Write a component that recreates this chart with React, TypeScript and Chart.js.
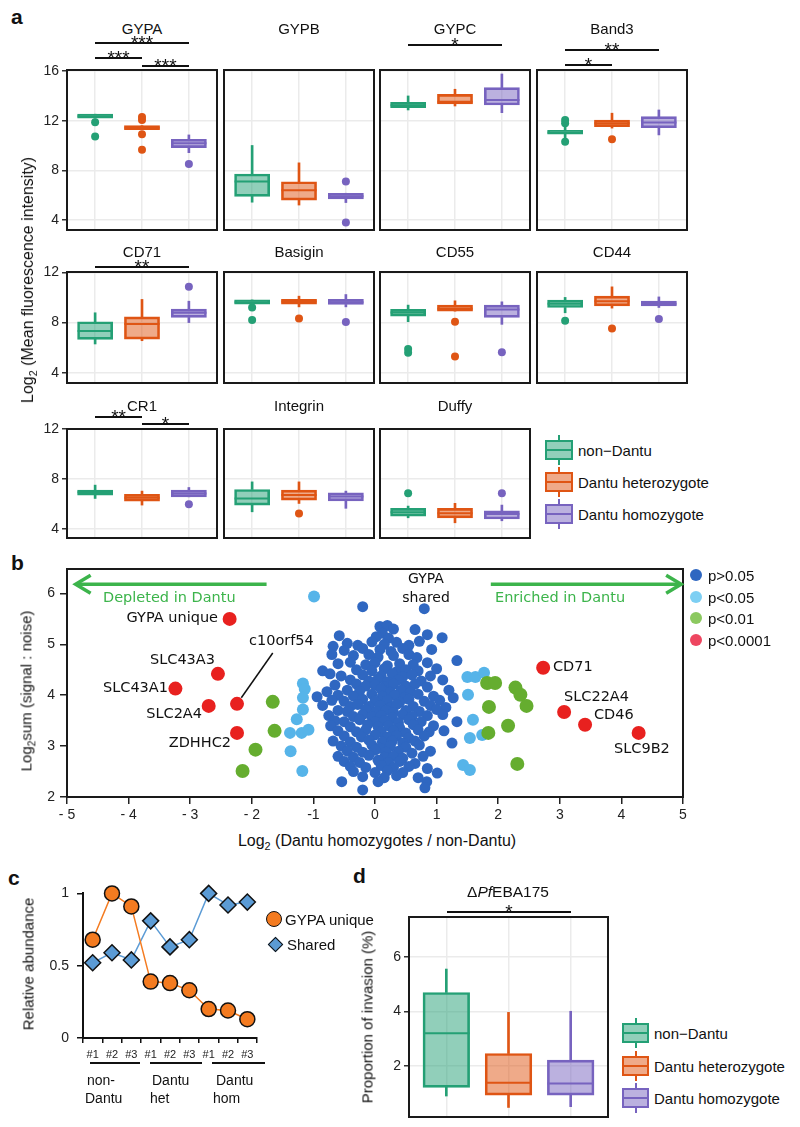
import React, { useEffect, useRef } from 'react';
import { Chart, registerables } from 'chart.js';

Chart.register(...registerables);

const ARIAL = "'Liberation Sans', Arial, sans-serif";
const VERDANA = "'DejaVu Sans', Verdana, sans-serif";
Chart.defaults.font.family = ARIAL;
Chart.defaults.color = '#222';

// ---------------- Panel a data ----------------
const markers = ['GYPA', 'GYPB', 'GYPC', 'Band3', 'CD71', 'Basigin', 'CD55', 'CD44', 'CR1', 'Integrin', 'Duffy'];
const groupNames = ['non\u2212Dantu', 'Dantu heterozygote', 'Dantu homozygote'];
const catValues = [1, 2, 3];
// [lower whisker, Q1, median, Q3, upper whisker]
const nonDantuStats = [
  [12.2, 12.2, 12.35, 12.52, 12.52],
  [5.43, 5.9, 7.1, 7.7, 10.0],
  [12.86, 13.05, 13.25, 13.48, 13.99],
  [10.55, 10.92, 11.05, 11.22, 11.55],
  [6.3, 6.67, 7.33, 8.07, 8.78],
  [9.47, 9.47, 9.62, 9.8, 9.8],
  [8.07, 8.51, 8.8, 9.05, 9.39],
  [8.78, 9.2, 9.5, 9.78, 10.0],
  [6.45, 6.72, 6.95, 7.12, 7.52],
  [5.38, 5.92, 6.45, 7.17, 7.78],
  [4.9, 5.04, 5.35, 5.66, 5.84],
];
const nonDantuOut = [[11.87, 10.72], [], [], [12.05, 11.78, 10.3], [], [9.2, 8.2], [5.9, 5.6], [8.14], [], [], [6.86]];
const hetStats = [
  [11.27, 11.27, 11.42, 11.6, 11.6],
  [5.2, 5.6, 6.4, 7.08, 8.6],
  [13.18, 13.34, 13.53, 14.12, 14.53],
  [11.4, 11.52, 11.8, 12.05, 12.6],
  [6.56, 6.69, 7.88, 8.46, 9.84],
  [9.25, 9.47, 9.68, 9.84, 10.1],
  [8.91, 8.91, 9.1, 9.39, 9.73],
  [9.15, 9.33, 9.7, 10.1, 10.84],
  [5.92, 6.24, 6.5, 6.78, 7.04],
  [6.05, 6.32, 6.72, 7.12, 7.78],
  [4.5, 4.9, 5.26, 5.66, 6.06],
];
const hetOut = [[12.3, 12.05, 10.9, 9.65], [], [], [10.5], [], [8.33], [8.07, 5.3], [7.54], [], [5.25], []];
const homStats = [
  [9.42, 9.83, 10.18, 10.5, 10.85],
  [5.4, 5.7, 5.9, 6.15, 6.15],
  [12.64, 13.26, 13.67, 14.66, 15.76],
  [10.85, 11.43, 11.85, 12.32, 12.86],
  [8.0, 8.41, 8.78, 9.07, 9.7],
  [9.25, 9.44, 9.62, 9.84, 10.23],
  [7.86, 8.41, 9.05, 9.39, 9.65],
  [9.2, 9.33, 9.5, 9.7, 10.04],
  [6.58, 6.58, 6.85, 7.12, 7.33],
  [5.66, 6.26, 6.6, 6.9, 7.04],
  [4.66, 4.8, 5.2, 5.46, 5.92],
];
const homOut = [[8.5], [7.1, 3.8], [], [], [10.84], [8.04], [5.64], [8.28], [5.98], [], [6.86]];
const rowYMin = [3.19, 3.2, 3.28];
const rowYMax = [16.08, 12.02, 12.02];
const rowYTicks = [[4, 8, 12, 16], [4, 8, 12], [4, 8, 12]];
const sigMarker = [0, 0, 0, 2, 3, 3, 4, 8, 8];
const sigFrom = [1, 1, 2, 1, 1, 1, 1, 1, 2];
const sigTo = [3, 2, 3, 3, 3, 2, 3, 2, 3];
const sigLabel = ['***', '***', '***', '*', '**', '*', '**', '**', '*'];

// ---------------- Panel b data ----------------
const xTickValuesB = [-5, -4, -3, -2, -1, 0, 1, 2, 3, 4, 5];
const xTickLabelsB = ['- 5', '- 4', '- 3', '- 2', '-1', '0', '1', '2', '3', '4', '5'];
const yTickValuesB = [2, 3, 4, 5, 6];
const p0001Labels = ['GYPA unique', 'SLC43A3', 'SLC43A1', 'SLC2A4', 'c10orf54', 'ZDHHC2', 'CD71', 'SLC22A4', 'CD46', 'SLC9B2'];
const p0001X = [-2.36, -2.55, -3.24, -2.70, -2.24, -2.24, 2.73, 3.07, 3.41, 4.28];
const p0001Y = [5.50, 4.42, 4.13, 3.79, 3.83, 3.26, 4.54, 3.67, 3.42, 3.26];
const p01X = [-1.66, -1.63, -1.94, -2.15, 1.82, 1.95, 2.28, 2.36, 2.46, 1.85, 2.16, 1.84, 2.31];
const p01Y = [3.87, 3.30, 2.93, 2.51, 4.24, 4.24, 4.15, 4.01, 3.79, 3.77, 3.40, 3.26, 2.65];
const p05X = [-0.99, -1.17, -1.14, -1.17, -1.17, -1.27, -1.38, -1.19, -1.08, -1.37, -1.18, 1.50, 1.63, 1.77, 1.51, 1.59, 1.54, 1.74, 1.43, 1.54];
const p05Y = [5.94, 4.23, 4.12, 3.95, 3.72, 3.53, 3.26, 3.26, 3.32, 2.90, 2.51, 4.36, 4.36, 4.44, 4.01, 3.52, 3.16, 3.22, 2.63, 2.53];
const pNS: [number, number][] = [
  [-0.20, 5.74], [0.80, 5.70],
  [0.08, 5.35], [0.20, 5.37], [0.30, 5.30], [0.12, 5.22],
  [-0.58, 5.17], [0.65, 5.29], [0.85, 5.19], [1.09, 5.13], [0.02, 5.15], [0.22, 5.12],
  [-0.68, 4.96], [-0.45, 5.02], [-0.28, 4.98], [-0.05, 5.05], [0.15, 5.0], [0.35, 5.04], [0.55, 4.98], [0.72, 5.06],
  [-0.70, 4.80], [-0.50, 4.88], [-0.20, 4.92], [0.08, 4.9], [0.26, 4.86], [0.45, 4.92], [0.92, 4.9],
  [-0.35, 4.78], [-0.10, 4.80], [0.05, 4.75], [0.30, 4.78], [0.55, 4.80], [0.68, 4.74], [1.33, 4.68],
  [-0.60, 4.62], [-0.40, 4.65], [-0.15, 4.60], [0.00, 4.64], [0.20, 4.58], [0.40, 4.62], [0.62, 4.60], [0.85, 4.64],
  [-0.85, 4.48], [-0.73, 4.42], [-0.30, 4.50], [-0.05, 4.48], [0.15, 4.52], [0.35, 4.46], [0.50, 4.50], [0.70, 4.48], [1.00, 4.52],
  [-0.55, 4.38], [-0.20, 4.40], [0.10, 4.38], [0.28, 4.42], [0.45, 4.36], [0.60, 4.40], [0.90, 4.38],
  [-0.40, 4.30], [-0.10, 4.28], [0.05, 4.32], [0.20, 4.26], [0.38, 4.30], [0.75, 4.28], [1.10, 4.30],
  [-0.65, 4.20], [-0.30, 4.22], [-0.15, 4.18], [0.00, 4.20], [0.15, 4.16], [0.30, 4.22], [0.50, 4.18], [0.65, 4.22], [0.85, 4.16],
  [-0.78, 4.07], [-0.45, 4.10], [-0.25, 4.08], [0.10, 4.12], [0.25, 4.06], [0.42, 4.10], [0.58, 4.06], [1.20, 4.10],
  [-0.94, 3.97], [-0.60, 4.00], [-0.35, 3.98], [-0.05, 4.02], [0.12, 3.98], [0.32, 4.00], [0.48, 3.96], [0.70, 4.02], [0.95, 3.98], [1.27, 3.95],
  [-0.70, 3.90], [-0.50, 3.88], [-0.20, 3.92], [0.00, 3.88], [0.20, 3.90], [0.40, 3.86], [0.55, 3.92], [0.80, 3.88], [1.05, 3.90],
  [-0.85, 3.80], [-0.40, 3.78], [-0.28, 3.82], [-0.10, 3.78], [0.08, 3.80], [0.25, 3.76], [0.35, 3.82], [0.62, 3.78], [0.90, 3.80], [1.15, 3.76],
  [-0.60, 3.70], [-0.45, 3.68], [-0.15, 3.72], [0.02, 3.68], [0.18, 3.70], [0.30, 3.66], [0.50, 3.70], [0.72, 3.68], [1.00, 3.72],
  [-0.75, 3.60], [-0.35, 3.58], [-0.20, 3.62], [-0.05, 3.58], [0.10, 3.60], [0.28, 3.56], [0.45, 3.62], [0.60, 3.58], [0.85, 3.60], [1.10, 3.62],
  [-0.65, 3.50], [-0.50, 3.48], [-0.25, 3.52], [0.00, 3.48], [0.15, 3.50], [0.38, 3.46], [0.55, 3.52], [0.75, 3.48], [1.33, 3.48],
  [-0.72, 3.40], [-0.40, 3.38], [-0.12, 3.42], [0.05, 3.38], [0.22, 3.40], [0.40, 3.36], [0.62, 3.42], [0.95, 3.40],
  [-0.60, 3.30], [-0.30, 3.28], [-0.15, 3.32], [0.10, 3.28], [0.30, 3.30], [0.50, 3.26], [0.70, 3.32], [0.88, 3.28], [1.12, 3.30],
  [-0.50, 3.20], [-0.22, 3.18], [0.00, 3.22], [0.20, 3.18], [0.35, 3.20], [0.55, 3.16], [0.80, 3.20],
  [-0.68, 3.10], [-0.40, 3.08], [-0.10, 3.12], [0.12, 3.08], [0.28, 3.10], [0.45, 3.06], [0.65, 3.10], [1.25, 3.06],
  [-0.55, 3.00], [-0.30, 2.98], [-0.05, 3.02], [0.08, 2.96], [0.25, 3.00], [0.50, 2.98], [0.72, 3.02],
  [-0.45, 2.90], [-0.20, 2.88], [0.00, 2.92], [0.18, 2.88], [0.38, 2.90], [0.60, 2.86], [0.90, 2.90],
  [-0.60, 2.80], [-0.35, 2.78], [-0.10, 2.82], [0.15, 2.78], [0.30, 2.80], [0.45, 2.76], [0.78, 2.80],
  [-0.50, 2.70], [-0.25, 2.68], [0.05, 2.72], [0.22, 2.68], [0.40, 2.70], [0.65, 2.66],
  [-0.40, 2.60], [-0.15, 2.58], [0.10, 2.62], [0.30, 2.58], [0.55, 2.60], [0.85, 2.56],
  [-0.35, 2.50], [0.00, 2.48], [0.20, 2.52], [0.45, 2.48], [1.01, 2.47],
  [-0.20, 2.40], [0.15, 2.38], [0.35, 2.42], [0.70, 2.38],
  [-0.54, 2.30], [0.05, 2.30], [0.84, 2.30],
  [-0.20, 2.14], [0.81, 2.18],
];
const arrowFrom = [-1.76, 1.88];
const arrowTo = [-4.86, 4.97];
const arrowLevel = 6.18;
const leaderX = [-1.66, -2.17];
const leaderY = [4.83, 3.95];

// ---------------- Panel c data ----------------
const cLabels = ['#1', '#2', '#3', '#1', '#2', '#3', '#1', '#2', '#3'];
const cGroups = [['non-', 'Dantu'], ['Dantu', 'het'], ['Dantu', 'hom']];
const gypaUnique = [0.68, 1.0, 0.91, 0.39, 0.38, 0.33, 0.20, 0.19, 0.13];
const sharedAbund = [0.52, 0.59, 0.54, 0.81, 0.63, 0.68, 1.0, 0.92, 0.94];
const cYTicks = [0, 0.5, 1];

// ---------------- Panel d data ----------------
const eba175Stats = [
  [0.89, 1.21, 3.19, 4.69, 5.55],
  [0.47, 0.92, 1.38, 2.45, 3.96],
  [0.50, 0.92, 1.35, 2.21, 4.00],
];
const eba175Out: number[][] = [[], [], []];
const dYTicks = [2, 4, 6];

// ---------------- styles ----------------
const GROUP_COLORS = ['#24a075', '#df5514', '#7763bf'];
const GROUP_FILLS = ['rgba(36,160,117,0.5)', 'rgba(223,85,20,0.5)', 'rgba(119,99,191,0.5)'];
const GRID = '#ebebeb';
const FRAME = '#1a1a1a';
const P_COLORS = ['#2f67c1', '#56b4e9', '#65ad2f', '#e8211f'];
const P_LEGEND_COLORS = ['#2f67c1', '#7dcff3', '#8cc960', '#ee4660'];
const P_LEGEND_LABELS = ['p>0.05', 'p<0.05', 'p<0.01', 'p<0.0001'];
const ARROW_GREEN = '#3cb44b';
const C_ORANGE = '#f47b20';
const C_BLUE = '#5b9bd5';

const framePlugin = {
  id: 'frame',
  afterDatasetsDraw(chart: any, _args: any, opts: any) {
    if (!opts || !opts.width) return;
    const { left, top, right, bottom } = chart.chartArea;
    const ctx = chart.ctx;
    ctx.save();
    ctx.strokeStyle = opts.color;
    ctx.lineWidth = opts.width;
    ctx.strokeRect(left, top, right - left, bottom - top);
    ctx.restore();
  },
};
Chart.register(framePlugin);

const bAnnotPlugin = {
  id: 'bAnnot',
  afterDatasetsDraw(chart: any) {
    const ctx = chart.ctx;
    const xs = chart.scales.x;
    const ys = chart.scales.y;
    ctx.save();
    ctx.strokeStyle = ARROW_GREEN;
    ctx.lineWidth = 3.5;
    ctx.lineJoin = 'miter';
    for (let i = 0; i < arrowFrom.length; i++) {
      const x0 = xs.getPixelForValue(arrowFrom[i]);
      const x1 = xs.getPixelForValue(arrowTo[i]);
      const y = ys.getPixelForValue(arrowLevel);
      const d = Math.sign(x1 - x0);
      ctx.beginPath();
      ctx.moveTo(x0, y);
      ctx.lineTo(x1 - d * 2, y);
      ctx.stroke();
      ctx.beginPath();
      ctx.moveTo(x1 - d * 15, y - 9);
      ctx.lineTo(x1, y);
      ctx.lineTo(x1 - d * 15, y + 9);
      ctx.stroke();
    }
    ctx.strokeStyle = '#111';
    ctx.lineWidth = 1.5;
    ctx.beginPath();
    ctx.moveTo(xs.getPixelForValue(leaderX[0]), ys.getPixelForValue(leaderY[0]));
    ctx.lineTo(xs.getPixelForValue(leaderX[1]), ys.getPixelForValue(leaderY[1]));
    ctx.stroke();
    ctx.restore();
  },
};

type Rect = { x: number; y: number; w: number; h: number };
type Margin = { l: number; t: number; r: number; b: number };

function PlacedChart({ rect, margin, build }: { rect: Rect; margin: Margin; build: () => any }) {
  const ref = useRef<HTMLCanvasElement>(null);
  useEffect(() => {
    const cfg = build();
    const o = cfg.options || (cfg.options = {});
    o.responsive = false;
    o.maintainAspectRatio = false;
    o.animation = false;
    o.events = [];
    o.devicePixelRatio = 1;
    o.layout = { autoPadding: false, padding: { left: 0, top: margin.t, right: margin.r, bottom: 0 } };
    o.plugins = { ...(o.plugins || {}), legend: { display: false }, tooltip: { enabled: false }, title: { display: false } };
    o.scales.x.afterFit = (s: any) => { s.height = margin.b; };
    o.scales.y.afterFit = (s: any) => { s.width = margin.l; };
    const chart = new Chart(ref.current as HTMLCanvasElement, cfg);
    return () => chart.destroy();
  }, []);
  const W = rect.w + margin.l + margin.r;
  const H = rect.h + margin.t + margin.b;
  return (
    <canvas
      ref={ref}
      width={W}
      height={H}
      style={{ position: 'absolute', left: rect.x - margin.l, top: rect.y - margin.t, width: W, height: H }}
    />
  );
}

function boxChart(stats: number[][], outs: number[][], yMin: number, yMax: number, yTicks: number[], showY: boolean, plotW: number, tickSize: number) {
  const boxPx = (0.75 * plotW) / 3.2;
  const datasets: any[] = [
    {
      type: 'scatter',
      data: stats.map((s, i) => ({ x: catValues[i], y: s[2] })),
      pointStyle: 'line',
      pointRadius: boxPx / 2,
      pointBorderColor: GROUP_COLORS,
      pointBorderWidth: 2,
      clip: false,
      order: 0,
    },
    {
      type: 'bar',
      data: stats.map((s, i) => ({ x: catValues[i], y: [s[1], s[3]] })),
      backgroundColor: GROUP_FILLS,
      borderColor: GROUP_COLORS,
      borderWidth: 2,
      borderSkipped: false,
      barThickness: boxPx,
      grouped: false,
      order: 1,
    },
    {
      type: 'bar',
      data: stats.map((s, i) => ({ x: catValues[i], y: [s[0], s[1]] })),
      backgroundColor: GROUP_COLORS,
      borderWidth: 0,
      barThickness: 2,
      grouped: false,
      order: 2,
    },
    {
      type: 'bar',
      data: stats.map((s, i) => ({ x: catValues[i], y: [s[3], s[4]] })),
      backgroundColor: GROUP_COLORS,
      borderWidth: 0,
      barThickness: 2,
      grouped: false,
      order: 2,
    },
    ...outs.map((o, i) => ({
      type: 'scatter',
      data: o.map((v) => ({ x: catValues[i], y: v })),
      pointRadius: 4,
      pointBackgroundColor: GROUP_COLORS[i],
      pointBorderWidth: 0,
      clip: false,
      order: 3,
    })),
  ];
  return {
    type: 'scatter',
    data: { datasets },
    options: {
      plugins: { frame: { color: FRAME, width: 2 } },
      scales: {
        x: {
          type: 'linear',
          min: 0.4,
          max: 3.6,
          offset: false,
          afterBuildTicks: (s: any) => { s.ticks = catValues.map((value) => ({ value })); },
          ticks: { display: false },
          grid: { color: GRID, lineWidth: 1.5, drawTicks: false, offset: false },
          border: { display: false },
        },
        y: {
          type: 'linear',
          min: yMin,
          max: yMax,
          beginAtZero: false,
          afterBuildTicks: (s: any) => { s.ticks = yTicks.map((value) => ({ value })); },
          ticks: { display: showY, color: '#222', font: { size: tickSize }, padding: 3, callback: (v: any) => String(v) },
          grid: { color: GRID, lineWidth: 1.5, drawTicks: showY, tickLength: 5, tickColor: '#333' },
          border: { display: false },
        },
      },
    },
  };
}

function scatterChart() {
  const mk = (xs: number[], ys: number[]) => xs.map((x, i) => ({ x, y: ys[i] }));
  return {
    type: 'scatter',
    data: {
      datasets: [
        { data: mk(p0001X, p0001Y), pointRadius: 7, backgroundColor: P_COLORS[3], borderWidth: 0, order: 0 },
        { data: mk(p01X, p01Y), pointRadius: 7, backgroundColor: P_COLORS[2], borderWidth: 0, order: 1 },
        { data: mk(p05X, p05Y), pointRadius: 6, backgroundColor: P_COLORS[1], borderWidth: 0, order: 2 },
        { data: pNS.map(([x, y]) => ({ x, y })), pointRadius: 5.5, backgroundColor: P_COLORS[0], borderWidth: 0, order: 3 },
      ],
    },
    options: {
      plugins: { frame: { color: FRAME, width: 2 } },
      scales: {
        x: {
          type: 'linear',
          min: -5,
          max: 5,
          afterBuildTicks: (s: any) => { s.ticks = xTickValuesB.map((value) => ({ value })); },
          ticks: { callback: (_v: any, i: number) => xTickLabelsB[i], font: { size: 14 }, color: '#222', padding: 3, maxRotation: 0, autoSkip: false },
          grid: { drawOnChartArea: false, tickLength: 7, tickColor: '#222', lineWidth: 1.5 },
          border: { display: false },
        },
        y: {
          type: 'linear',
          min: 2,
          max: 6.48,
          afterBuildTicks: (s: any) => { s.ticks = yTickValuesB.map((value) => ({ value })); },
          ticks: { font: { size: 14 }, color: '#222', padding: 5, callback: (v: any) => String(v) },
          grid: { drawOnChartArea: false, tickLength: 7, tickColor: '#222', lineWidth: 1.5 },
          border: { display: false },
        },
      },
    },
    plugins: [bAnnotPlugin],
  };
}

function lineChart() {
  return {
    type: 'line',
    data: {
      labels: cLabels,
      datasets: [
        {
          label: 'Shared',
          data: sharedAbund,
          borderColor: C_BLUE,
          borderWidth: 1.5,
          pointStyle: 'rectRot',
          pointRadius: 8,
          pointBackgroundColor: C_BLUE,
          pointBorderColor: '#111',
          pointBorderWidth: 1.5,
          clip: false,
          order: 1,
        },
        {
          label: 'GYPA unique',
          data: gypaUnique,
          borderColor: C_ORANGE,
          borderWidth: 1.5,
          pointRadius: 7.5,
          pointBackgroundColor: C_ORANGE,
          pointBorderColor: '#111',
          pointBorderWidth: 1.5,
          clip: false,
          order: 0,
        },
      ],
    },
    options: {
      scales: {
        x: {
          type: 'category',
          offset: true,
          grid: { offset: true, drawOnChartArea: false, tickLength: 5, tickColor: '#111', lineWidth: 1.5 },
          border: { display: true, color: '#111', width: 2 },
          ticks: { font: { size: 11 }, color: '#222', padding: 5, maxRotation: 0, autoSkip: false },
        },
        y: {
          type: 'linear',
          min: 0,
          max: 1,
          afterBuildTicks: (s: any) => { s.ticks = cYTicks.map((value) => ({ value })); },
          grid: { drawOnChartArea: false, tickLength: 6, tickColor: '#111', lineWidth: 1.5 },
          border: { display: true, color: '#111', width: 2 },
          ticks: { font: { size: 14 }, color: '#222', padding: 8, callback: (v: any) => String(v) },
        },
      },
    },
  };
}

function Txt(props: any) {
  const { x, y, size = 14, anchor = 'c', family = ARIAL, color = '#111', weight = 400, rotate = false, children } = props;
  const tx = anchor === 'l' ? '0' : anchor === 'r' ? '-100%' : '-50%';
  const transform = rotate ? 'translate(-50%,-50%) rotate(-90deg)' : `translate(${tx},-50%)`;
  return (
    <div
      style={{
        position: 'absolute', left: x, top: y, transform, fontSize: size, fontFamily: family,
        color, fontWeight: weight, lineHeight: 1, whiteSpace: 'nowrap',
      }}
    >
      {children}
    </div>
  );
}

function HLine({ x1, x2, y, w = 1.5, color = '#111' }: any) {
  return <div style={{ position: 'absolute', left: x1, top: y - w / 2, width: x2 - x1, height: w, background: color }} />;
}

function Stars({ x, y, text }: any) {
  return (
    <div style={{ position: 'absolute', left: x, top: y - 10, transform: 'translateX(-50%)', fontFamily: ARIAL, fontSize: 19, lineHeight: 1, color: '#111' }}>{text}</div>
  );
}

function BoxKey({ x, y, w, i }: any) {
  const c = GROUP_COLORS[i];
  return (
    <>
      <div style={{ position: 'absolute', left: x + w / 2 - 1, top: y - 15, width: 2, height: 6, background: c }} />
      <div style={{ position: 'absolute', left: x + w / 2 - 1, top: y + 9, width: 2, height: 6, background: c }} />
      <div style={{ position: 'absolute', left: x, top: y - 10, width: w, height: 20, boxSizing: 'border-box', border: `2px solid ${c}`, background: GROUP_FILLS[i] }} />
      <div style={{ position: 'absolute', left: x, top: y - 1, width: w, height: 2, background: c }} />
    </>
  );
}

const Sub2 = () => <span style={{ fontSize: '0.68em', position: 'relative', top: '0.35em' }}>2</span>;

// layout constants
const colLefts = [67, 224, 380, 537];
const panelW = 150;
const rowTops = [70, 272, 429];
const rowHeights = [160, 111, 109];
const rowTitleY = [28, 251, 405];
const sigY = [43, 58, 66, 45, 50, 65, 267, 417, 424];

export default function App() {
  const statsFor = (m: number) => [nonDantuStats[m], hetStats[m], homStats[m]];
  const outsFor = (m: number) => [nonDantuOut[m], hetOut[m], homOut[m]];
  const catPx = (col: number, c: number) => colLefts[col] + ((c - 0.4) / 3.2) * panelW;

  return (
    <div style={{ position: 'absolute', left: 0, top: 0, width: 800, height: 1127, background: '#fff', overflow: 'hidden' }}>
      {/* panel letters */}
      <Txt x={11} y={16} size={21} weight={700} anchor="l">a</Txt>
      <Txt x={11} y={562} size={21} weight={700} anchor="l">b</Txt>
      <Txt x={8} y={877} size={21} weight={700} anchor="l">c</Txt>
      <Txt x={353} y={875} size={21} weight={700} anchor="l">d</Txt>

      {/* ---------- panel a ---------- */}
      {markers.map((m, k) => {
        const row = Math.floor(k / 4);
        const col = k % 4;
        const rect = { x: colLefts[col], y: rowTops[row], w: panelW, h: rowHeights[row] };
        const margin = col === 0 ? { l: 40, t: 14, r: 4, b: 14 } : { l: 4, t: 10, r: 4, b: 4 };
        return (
          <React.Fragment key={m}>
            <PlacedChart
              rect={rect}
              margin={margin}
              build={() => boxChart(statsFor(k), outsFor(k), rowYMin[row], rowYMax[row], rowYTicks[row], col === 0, panelW, 14)}
            />
            <Txt x={colLefts[col] + panelW / 2} y={rowTitleY[row]} size={15}>{m}</Txt>
          </React.Fragment>
        );
      })}
      {sigMarker.map((m, i) => {
        const col = m % 4;
        const x1 = catPx(col, sigFrom[i]);
        const x2 = catPx(col, sigTo[i]);
        return (
          <React.Fragment key={'sig' + i}>
            <HLine x1={x1} x2={x2} y={sigY[i]} />
            <Stars x={(x1 + x2) / 2} y={sigY[i]} text={sigLabel[i]} />
          </React.Fragment>
        );
      })}
      <Txt x={28} y={280} size={16} rotate>Log<Sub2 /> (Mean fluorescence intensity)</Txt>
      {groupNames.map((g, i) => (
        <React.Fragment key={g}>
          <BoxKey x={545} y={450 + i * 32} w={28} i={i} />
          <Txt x={578} y={450 + i * 32} size={15} anchor="l">{g}</Txt>
        </React.Fragment>
      ))}

      {/* ---------- panel b ---------- */}
      <PlacedChart rect={{ x: 67, y: 569, w: 616, h: 228 }} margin={{ l: 60, t: 14, r: 12, b: 30 }} build={scatterChart} />
      <Txt x={26} y={691} size={15} rotate>Log<Sub2 />sum (signal : noise)</Txt>
      <Txt x={377} y={841} size={16}>Log<Sub2 /> (Dantu homozygotes / non-Dantu)</Txt>
      <Txt x={103} y={597} size={14.5} family={VERDANA} color={ARROW_GREEN} anchor="l">Depleted in Dantu</Txt>
      <Txt x={495} y={597} size={14.5} family={VERDANA} color={ARROW_GREEN} anchor="l">Enriched in Dantu</Txt>
      <Txt x={426} y={578} size={14} family={VERDANA}>GYPA</Txt>
      <Txt x={426} y={597} size={14} family={VERDANA}>shared</Txt>
      <Txt x={218} y={617} size={14.5} family={VERDANA} anchor="r">{p0001Labels[0]}</Txt>
      <Txt x={215} y={659} size={14.5} family={VERDANA} anchor="r">{p0001Labels[1]}</Txt>
      <Txt x={168} y={687} size={14.5} family={VERDANA} anchor="r">{p0001Labels[2]}</Txt>
      <Txt x={202} y={713} size={14.5} family={VERDANA} anchor="r">{p0001Labels[3]}</Txt>
      <Txt x={249} y={640} size={14.5} family={VERDANA} anchor="l">{p0001Labels[4]}</Txt>
      <Txt x={231} y={742} size={14.5} family={VERDANA} anchor="r">{p0001Labels[5]}</Txt>
      <Txt x={553} y={666} size={14.5} family={VERDANA} anchor="l">{p0001Labels[6]}</Txt>
      <Txt x={564} y={696} size={14.5} family={VERDANA} anchor="l">{p0001Labels[7]}</Txt>
      <Txt x={594} y={714} size={14.5} family={VERDANA} anchor="l">{p0001Labels[8]}</Txt>
      <Txt x={614} y={748} size={14.5} family={VERDANA} anchor="l">{p0001Labels[9]}</Txt>
      {P_LEGEND_LABELS.map((l, i) => (
        <React.Fragment key={l}>
          <div style={{ position: 'absolute', left: 696 - 6, top: 575 + i * 21.7 - 6, width: 12, height: 12, borderRadius: 6, background: P_LEGEND_COLORS[i] }} />
          <Txt x={708} y={575 + i * 21.7} size={15} anchor="l">{l}</Txt>
        </React.Fragment>
      ))}

      {/* ---------- panel c ---------- */}
      <PlacedChart rect={{ x: 83, y: 891, w: 174, h: 147 }} margin={{ l: 50, t: 14, r: 12, b: 28 }} build={lineChart} />
      <Txt x={28} y={964} size={15} rotate>Relative abundance</Txt>
      {cGroups.map((g, i) => {
        const x1 = [90, 150, 212][i];
        const x2 = [140, 202, 265][i];
        return (
          <React.Fragment key={'cg' + i}>
            <HLine x1={x1} x2={x2} y={1063} w={2} />
            <Txt x={[87, 152, 216][i]} y={1080} size={14} anchor="l">{g[0]}</Txt>
            <Txt x={[85, 150, 213][i]} y={1098} size={14} anchor="l">{g[1]}</Txt>
          </React.Fragment>
        );
      })}
      <div style={{ position: 'absolute', left: 274 - 8, top: 919 - 8, width: 16, height: 16, borderRadius: 8, boxSizing: 'border-box', border: '1.5px solid #111', background: C_ORANGE }} />
      <Txt x={285} y={919} size={15} anchor="l">GYPA unique</Txt>
      <div style={{ position: 'absolute', left: 275 - 5.5, top: 944 - 5.5, width: 11, height: 11, boxSizing: 'border-box', border: '1.5px solid #111', background: C_BLUE, transform: 'rotate(45deg)' }} />
      <Txt x={287} y={944} size={15} anchor="l">Shared</Txt>

      {/* ---------- panel d ---------- */}
      <PlacedChart
        rect={{ x: 409, y: 917, w: 199, h: 200 }}
        margin={{ l: 45, t: 14, r: 6, b: 14 }}
        build={() => boxChart(eba175Stats, eba175Out, 0.12, 7.46, dYTicks, true, 199, 14)}
      />
      <Txt x={508} y={892} size={15.5}>{'\u0394'}<i>Pf</i>EBA175</Txt>
      <HLine x1={447} x2={571} y={912} />
      <Stars x={509} y={912} text="*" />
      <Txt x={367} y={1017} size={15} rotate>Proportion of invasion (%)</Txt>
      {groupNames.map((g, i) => (
        <React.Fragment key={'d' + g}>
          <BoxKey x={622} y={1033 + i * 32.5} w={27} i={i} />
          <Txt x={654} y={1033 + i * 32.5} size={15} anchor="l">{g}</Txt>
        </React.Fragment>
      ))}
    </div>
  );
}
